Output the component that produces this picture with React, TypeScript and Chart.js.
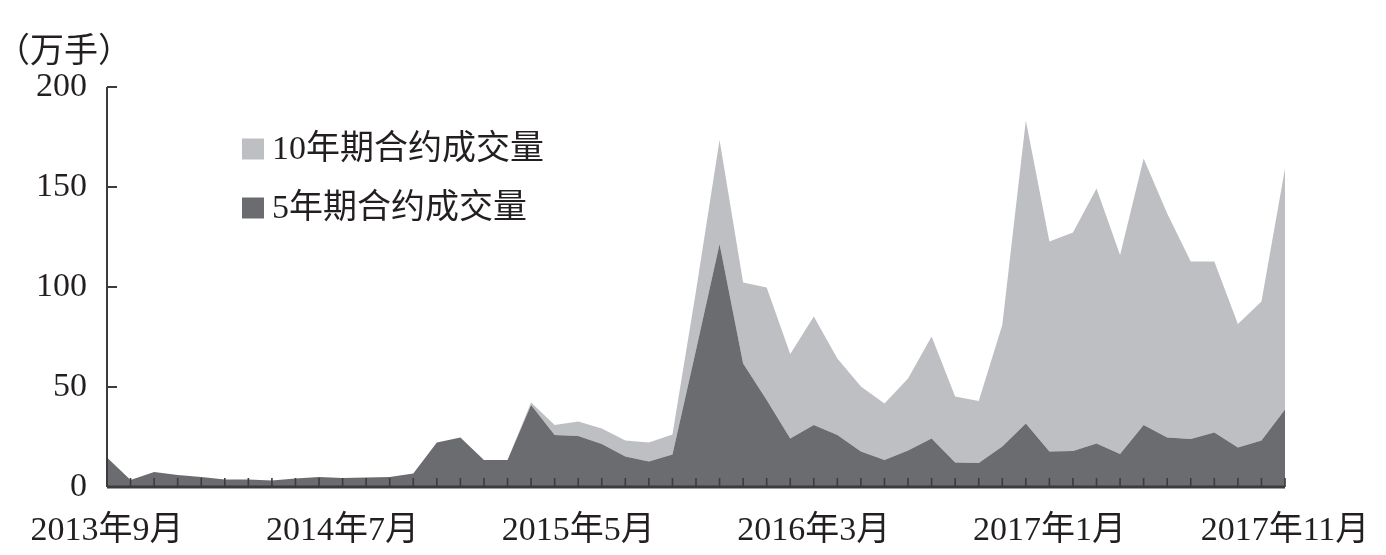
import React, { useEffect, useRef } from "react";
import { Chart, registerables } from "chart.js";

Chart.register(...registerables);

const months = [
  "2013年9月", "2013年10月", "2013年11月", "2013年12月",
  "2014年1月", "2014年2月", "2014年3月", "2014年4月", "2014年5月", "2014年6月",
  "2014年7月", "2014年8月", "2014年9月", "2014年10月", "2014年11月", "2014年12月",
  "2015年1月", "2015年2月", "2015年3月", "2015年4月", "2015年5月", "2015年6月",
  "2015年7月", "2015年8月", "2015年9月", "2015年10月", "2015年11月", "2015年12月",
  "2016年1月", "2016年2月", "2016年3月", "2016年4月", "2016年5月", "2016年6月",
  "2016年7月", "2016年8月", "2016年9月", "2016年10月", "2016年11月", "2016年12月",
  "2017年1月", "2017年2月", "2017年3月", "2017年4月", "2017年5月", "2017年6月",
  "2017年7月", "2017年8月", "2017年9月", "2017年10月", "2017年11月",
];

// 5-year contract volume (万手)
const vol5y = [
  14.7, 3.5, 7.5, 6, 5, 3.8, 3.8, 3.2, 4.2, 5,
  4.5, 4.7, 5, 6.8, 22.3, 24.8, 13.5, 13.5, 41, 26,
  25.5, 21.5, 15.2, 12.7, 16.3, 68.5, 121.5, 61.8, 43.5, 24.3,
  31, 26, 17.7, 13.5, 18.2, 24.3, 12.2, 12, 20.2, 31.8,
  17.7, 18, 21.8, 16.5, 31, 24.8, 24, 27.2, 19.7, 23.2,
  38.8,
];

// 10-year contract volume (万手), stacked on top of the 5-year area
const vol10y = [
  0, 0, 0, 0, 0, 0, 0, 0, 0, 0,
  0, 0, 0, 0, 0, 0, 0, 0, 1.3, 5,
  7.2, 7.8, 8, 9.6, 10, 29.5, 52, 40.4, 56.3, 42.2,
  54.2, 38.3, 32.5, 28.3, 36.1, 50.9, 33, 31, 60.8, 151.4,
  105, 109.2, 127.5, 99.5, 133.3, 112, 88.7, 85.5, 61.8, 69.5,
  120.5,
];

const seriesNames = ["5年期合约成交量", "10年期合约成交量"];
const seriesColors = ["#6a6c6f", "#bdbfc2"];
const unitLabel = "（万手）";
const labelEvery = 10;
const yMin = 0;
const yMax = 200;
const yStep = 50;

const FONT = '"Liberation Serif", "Times New Roman", "Noto Sans CJK SC", serif';
const TEXT_COLOR = "#231f20";
const AXIS_COLOR = "#3c3c3c";

const decorPlugin = {
  id: "decor",
  afterDatasetsDraw(chart: any) {
    const { ctx, chartArea, scales } = chart;
    const xs = scales.x;
    const ys = scales.y;
    ctx.save();
    ctx.strokeStyle = AXIS_COLOR;
    // y axis line and inner ticks
    ctx.lineWidth = 2;
    ctx.beginPath();
    ctx.moveTo(chartArea.left, chartArea.top);
    ctx.lineTo(chartArea.left, chartArea.bottom);
    ys.ticks.forEach((t: any) => {
      const py = Math.round(ys.getPixelForValue(t.value));
      ctx.moveTo(chartArea.left, py);
      ctx.lineTo(chartArea.left + 10, py);
    });
    ctx.stroke();
    // x axis ticks (inner, upward)
    ctx.lineWidth = 1.6;
    ctx.beginPath();
    for (let i = 0; i < months.length; i++) {
      const px = xs.getPixelForValue(i);
      ctx.moveTo(px, chartArea.bottom);
      ctx.lineTo(px, chartArea.bottom - 9);
    }
    ctx.stroke();
    // x axis line
    ctx.lineWidth = 3;
    ctx.beginPath();
    ctx.moveTo(chartArea.left, chartArea.bottom);
    ctx.lineTo(chartArea.right, chartArea.bottom);
    ctx.stroke();
    ctx.restore();
  },
  afterDraw(chart: any) {
    const { ctx } = chart;
    ctx.save();
    ctx.fillStyle = TEXT_COLOR;
    ctx.textBaseline = "middle";
    ctx.textAlign = "left";
    ctx.font = `34px ${FONT}`;
    ctx.fillText(unitLabel, -12, 45);
    // legend: 10-year first, then 5-year
    const order = [1, 0];
    order.forEach((di, row) => {
      const cy = 141 + row * 59;
      ctx.fillStyle = seriesColors[di];
      ctx.fillRect(234, cy - 10.5, 22, 21);
      ctx.fillStyle = TEXT_COLOR;
      ctx.fillText(seriesNames[di], 264, cy + 1);
    });
    ctx.restore();
  },
};

export default function App() {
  const canvasRef = useRef<HTMLCanvasElement | null>(null);

  useEffect(() => {
    const canvas = canvasRef.current;
    if (!canvas) return;
    const chart = new Chart(canvas, {
      type: "line",
      data: {
        labels: months,
        datasets: [
          {
            label: seriesNames[0],
            data: vol5y,
            backgroundColor: seriesColors[0],
            borderColor: "rgba(0,0,0,0)",
            borderWidth: 0,
            pointRadius: 0,
            tension: 0,
            fill: "origin",
          },
          {
            label: seriesNames[1],
            data: vol10y,
            backgroundColor: seriesColors[1],
            borderColor: "rgba(0,0,0,0)",
            borderWidth: 0,
            pointRadius: 0,
            tension: 0,
            fill: "-1",
          },
        ],
      },
      options: {
        responsive: false,
        animation: false,
        layout: { padding: { left: 0, right: 93, top: 79, bottom: 0 } },
        plugins: {
          legend: { display: false },
          tooltip: { enabled: false },
          title: { display: false },
        },
        scales: {
          x: {
            type: "category",
            offset: false,
            grid: { display: false, drawTicks: false },
            border: { display: false },
            ticks: {
              autoSkip: false,
              maxRotation: 0,
              minRotation: 0,
              padding: 24,
              color: TEXT_COLOR,
              font: { family: FONT, size: 34 },
              callback: (_v: any, i: number) => (i % labelEvery === 0 ? months[i] : ""),
            },
            afterFit: (scale: any) => {
              scale.height = 60;
              scale.paddingLeft = 0;
              scale.paddingRight = 0;
            },
          },
          y: {
            stacked: true,
            min: yMin,
            max: yMax,
            grid: { display: false, drawTicks: false },
            border: { display: false },
            ticks: {
              stepSize: yStep,
              padding: 20,
              color: TEXT_COLOR,
              font: { family: FONT, size: 34 },
            },
            afterFit: (scale: any) => {
              scale.width = 99;
              scale.paddingTop = 0;
              scale.paddingBottom = 0;
            },
          },
        },
      },
      plugins: [decorPlugin],
    });
    return () => chart.destroy();
  }, []);

  return <canvas ref={canvasRef} width={1370} height={539} style={{ display: "block" }} />;
}
